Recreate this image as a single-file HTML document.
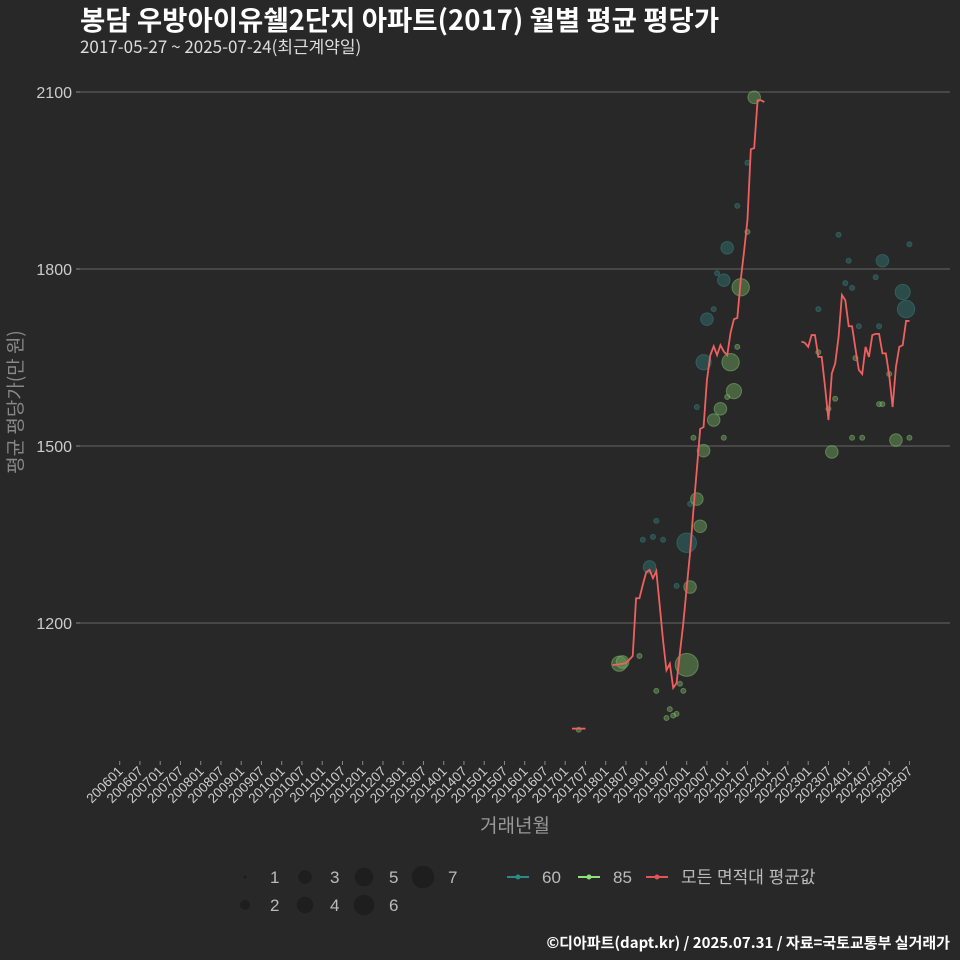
<!DOCTYPE html>
<html><head><meta charset="utf-8"><style>
body{margin:0;background:#282828;}
svg{display:block;font-family:"Liberation Sans","Noto Sans CJK KR",sans-serif;}
</style></head><body>
<svg id="chart" width="960" height="960" viewBox="0 0 960 960">
<rect width="960" height="960" fill="#282828"/>
<text x="80" y="30" fill="#ffffff" font-size="27.5" font-weight="bold" font-family="'Noto Sans CJK KR',sans-serif">봉담 우방아이유쉘2단지 아파트(2017) 월별 평균 평당가</text>
<text x="80" y="53" fill="#dddddd" font-size="17" font-family="'Noto Sans CJK KR',sans-serif">2017-05-27 ~ 2025-07-24(최근계약일)</text>
<g id="grid"></g>
<g id="marks"></g>
<g id="xaxis"></g>
<text x="515" y="832" fill="#999" font-size="19" text-anchor="middle" font-family="'Noto Sans CJK KR',sans-serif">거래년월</text>
<text transform="translate(22,402) rotate(-90)" fill="#888" font-size="19" text-anchor="middle" font-family="'Noto Sans CJK KR',sans-serif">평균 평당가(만 원)</text>
<g id="legend"></g>
<text x="950" y="948" fill="#ffffff" font-size="15" font-weight="bold" text-anchor="end" font-family="'Noto Sans CJK KR',sans-serif">©디아파트(dapt.kr) / 2025.07.31 / 자료=국토교통부 실거래가</text>
</svg>
<script>
const yTicks=[1200,1500,1800,2100];
const avgMonths1=["2017-03","2017-07"];
const avgValues1=[1021,1021];
const avgMonths2=["2018-03","2018-04","2018-05","2018-06","2018-07","2018-08","2018-09","2018-10","2018-11","2018-12","2019-01","2019-02","2019-03","2019-04","2019-05","2019-06","2019-07","2019-08","2019-09","2019-10","2019-11","2019-12","2020-01","2020-02","2020-03","2020-04","2020-05","2020-06","2020-07","2020-08","2020-09","2020-10","2020-11","2020-12","2021-01","2021-02","2021-03","2021-04","2021-05","2021-06","2021-07","2021-08","2021-09","2021-10","2021-11","2021-12"];
const avgValues2=[1129,1129,1130,1131,1132,1138,1144,1242,1242,1265,1286,1290,1276,1288,1230,1170,1120,1131,1090,1098,1150,1200,1260,1319,1392,1460,1529,1532,1612,1654,1669,1654,1671,1660,1654,1692,1715,1717,1781,1830,1883,2003,2005,2086,2086,2083];
const avgMonths3=["2022-11","2022-12","2023-01","2023-02","2023-03","2023-04","2023-05","2023-06","2023-07","2023-08","2023-09","2023-10","2023-11","2023-12","2024-01","2024-02","2024-03","2024-04","2024-05","2024-06","2024-07","2024-08","2024-09","2024-10","2024-11","2024-12","2025-01","2025-02","2025-03","2025-04","2025-05","2025-06","2025-07"];
const avgValues3=[1677,1675,1668,1688,1688,1651,1651,1600,1544,1623,1640,1685,1756,1747,1703,1703,1665,1629,1622,1668,1651,1688,1690,1690,1657,1657,1620,1566,1634,1668,1671,1712,1712];
const s60Months=["2021-07","2021-04","2021-01","2020-10","2020-12","2020-09","2020-07","2020-06","2020-04","2020-02","2019-04","2019-03","2018-12","2019-06","2020-01","2019-02","2019-10","2023-10","2025-07","2024-01","2024-11","2024-09","2023-12","2024-02","2025-05","2025-06","2023-04","2024-04","2024-10"];
const s60Values=[1980,1907,1836,1793,1781,1732,1715,1642,1566,1402,1373,1346,1341,1341,1336,1295,1263,1858,1842,1814,1814,1786,1776,1768,1761,1732,1732,1703,1703];
const s60Counts=[1,1,3,1,3,1,3,4,1,1,1,1,1,1,6,3,1,1,1,1,3,1,1,1,4,5,1,1,1];
const s85Months=["2021-09","2021-07","2021-05","2021-04","2021-02","2021-03","2021-01","2020-11","2020-09","2020-03","2020-12","2020-06","2020-04","2020-05","2020-02","2018-05","2018-06","2018-11","2020-01","2019-11","2019-04","2019-12","2019-08","2019-07","2019-09","2019-10","2017-05","2023-04","2024-03","2025-01","2023-09","2023-07","2024-10","2024-11","2024-02","2024-05","2025-03","2025-07","2023-08"];
const s85Values=[2091,1863,1769,1668,1642,1593,1583,1563,1544,1514,1514,1492,1410,1364,1261,1131,1134,1144,1129,1097,1085,1085,1054,1039,1043,1046,1019,1659,1649,1622,1580,1563,1571,1571,1514,1514,1510,1514,1490];
const s85Counts=[3,1,5,1,5,4,1,3,3,1,1,3,3,3,3,4,3,1,7,1,1,1,1,1,1,1,1,1,1,1,1,1,1,1,1,1,3,1,3];
const xTickStart=2006, xTickEnd=2025;

const NS="http://www.w3.org/2000/svg";
function mk(tag,attrs,parent){const e=document.createElementNS(NS,tag);for(const k in attrs)e.setAttribute(k,attrs[k]);parent.appendChild(e);return e;}
function mIdx(s){const [y,m]=s.split("-").map(Number);return (y-2006)*12+(m-1);}
function xs(s){return 119.7+mIdx(s)*3.375;}
function ys(v){return 623-(v-1200)*0.59;}
const radius=[0,2.5,5,6.3,7.6,8.7,9.8,11.5];

const grid=document.getElementById("grid");
yTicks.forEach(t=>{
  const l=mk("line",{x1:80,x2:950,y1:ys(t),y2:ys(t),stroke:"#5a5a5a","stroke-width":1.2},grid);
  
  
  const tk=mk("line",{x1:76,x2:80,y1:ys(t),y2:ys(t),stroke:"#888"},grid);
  
  
  const tx=mk("text",{x:72,y:ys(t)+6,fill:"#cccccc","font-size":16,"text-anchor":"end"},grid);
  tx.textContent=t;
  
  
});
const xa=document.getElementById("xaxis");
for(let y=xTickStart;y<=xTickEnd;y++){for(const mo of ["01","07"]){
  const s=y+"-"+mo;const x=xs(s);
  const tk=mk("line",{x1:x,x2:x,y1:761,y2:765,stroke:"#888"},xa);
  
  
  const tx=mk("text",{transform:`translate(${x+4},${772}) rotate(-45)`,fill:"#cccccc","font-size":13.5,"text-anchor":"end"},xa);
  tx.textContent=y+mo;
  
  
}}
const marks=document.getElementById("marks");
function scatter(months,vals,counts,fill,stroke,name){
  months.forEach((m,i)=>{
    const c=mk("circle",{cx:xs(m),cy:ys(vals[i]),r:radius[counts[i]],fill:fill,"fill-opacity":0.5,stroke:stroke,"stroke-opacity":0.45,"stroke-width":1},marks);
    
    
  });
}
scatter(s60Months,s60Values,s60Counts,"#2e6f6c","#3a8a86","point-60");
scatter(s85Months,s85Values,s85Counts,"#6a9e5a","#8ccc7a","point-85");
function line(months,vals){
  const p=mk("polyline",{points:months.map((m,i)=>xs(m)+","+ys(vals[i])).join(" "),fill:"none",stroke:"#f06060","stroke-width":1.8},marks);
  
  
}
line(avgMonths1,avgValues1);line(avgMonths2,avgValues2);line(avgMonths3,avgValues3);

const lg=document.getElementById("legend");
const sizePos=[[1,245,877],[2,245,905],[3,305,877],[4,305,905],[5,364,877],[6,364,905],[7,423,877]];
sizePos.forEach(([s,x,y])=>{
  const c=mk("circle",{cx:x,cy:y,r:[0,1.6,5,6.8,8.3,9.3,10.3,11.3][s],fill:"#1e1e1e"},lg);
  
  
  const t=mk("text",{x:x+25,y:y+6,fill:"#bbbbbb","font-size":17},lg);
  t.textContent=s;
  
  
});
[["#2a8a86",518,"60"],["#8fe07a",589,"85"],["#e05555",657,"모든 면적대 평균값"]].forEach(([col,x,lab])=>{
  const l=mk("line",{x1:x-11,x2:x+11,y1:877,y2:877,stroke:col,"stroke-width":2},lg);
  
  
  const c=mk("circle",{cx:x,cy:877,r:2.5,fill:col},lg);
  
  
  const t=mk("text",{x:x+24,y:883,fill:"#bbbbbb","font-size":17},lg);
  t.textContent=lab;
  
  
});
</script>
</body></html>
